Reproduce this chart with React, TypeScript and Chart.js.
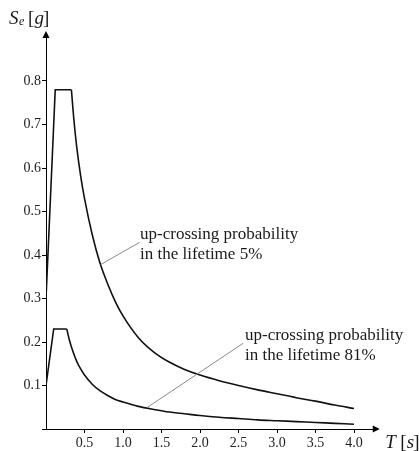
import React, { useEffect, useRef } from "react";
import { Chart, registerables } from "chart.js";

Chart.register(...registerables);

// Period T [s] and spectral acceleration Se [g]
const upperT = [0, 0.12, 0.33, 0.36, 0.4, 0.45, 0.5, 0.6, 0.7, 0.8, 0.9, 1.0, 1.2, 1.4, 1.6, 1.8, 2.0, 2.25, 2.5, 2.75, 3.0, 3.25, 3.5, 3.75, 4.0];
const upperSe = [0.30, 0.78, 0.78, 0.715, 0.647, 0.582, 0.53, 0.447, 0.382, 0.334, 0.293, 0.26, 0.21, 0.177, 0.154, 0.137, 0.124, 0.111, 0.1, 0.09, 0.081, 0.072, 0.064, 0.055, 0.047];
const lowerT = [0, 0.1, 0.27, 0.3, 0.35, 0.4, 0.45, 0.5, 0.6, 0.7, 0.8, 0.9, 1.0, 1.2, 1.4, 1.6, 1.8, 2.0, 2.25, 2.5, 2.75, 3.0, 3.25, 3.5, 3.75, 4.0];
const lowerSe = [0.10, 0.23, 0.23, 0.207, 0.178, 0.155, 0.138, 0.124, 0.103, 0.088, 0.077, 0.068, 0.062, 0.052, 0.045, 0.039, 0.035, 0.031, 0.027, 0.024, 0.021, 0.019, 0.017, 0.015, 0.013, 0.011];
const upperPlateauEnd = 2; // index where the decaying branch starts
const lowerPlateauEnd = 2;

const xTickValues = [0.5, 1.0, 1.5, 2.0, 2.5, 3.0, 3.5, 4.0];
const yTickValues = [0, 0.1, 0.2, 0.3, 0.4, 0.5, 0.6, 0.7, 0.8];

// annotation texts and anchors (data coordinates)
const note5Lines = ["up-crossing probability", "in the lifetime 5%"];
const note5Leader = [[0.71, 0.378], [1.215, 0.429]];
const note5Text = [1.221, 0.446];
const note81Lines = ["up-crossing probability", "in the lifetime 81%"];
const note81Leader = [[1.31, 0.049], [2.56, 0.197]];
const note81Text = [2.584, 0.216];

const toPts = (xs: number[], ys: number[], a: number, b: number) =>
  xs.slice(a, b).map((x, i) => ({ x, y: ys[a + i] }));

const SERIF = '"Liberation Serif", "Times New Roman", serif';

const decorPlugin = {
  id: "decor",
  afterDraw(chart: any) {
    const { ctx, chartArea, scales } = chart;
    const { left, top, right, bottom } = chartArea;
    const xs = scales.x;
    const ys = scales.y;
    ctx.save();
    ctx.fillStyle = "#000";
    // y arrow
    ctx.beginPath();
    ctx.moveTo(left - 3.5, top + 0.5);
    ctx.lineTo(left + 3.5, top + 0.5);
    ctx.lineTo(left, top - 6.5);
    ctx.closePath();
    ctx.fill();
    // x arrow
    ctx.beginPath();
    ctx.moveTo(right - 0.5, bottom - 3.5);
    ctx.lineTo(right - 0.5, bottom + 3.5);
    ctx.lineTo(right + 6.5, bottom);
    ctx.closePath();
    ctx.fill();

    // leaders
    ctx.strokeStyle = "#8a8a8a";
    ctx.lineWidth = 1;
    for (const ld of [note5Leader, note81Leader]) {
      ctx.beginPath();
      ctx.moveTo(xs.getPixelForValue(ld[0][0]), ys.getPixelForValue(ld[0][1]));
      ctx.lineTo(xs.getPixelForValue(ld[1][0]), ys.getPixelForValue(ld[1][1]));
      ctx.stroke();
    }

    // annotation text
    ctx.fillStyle = "#1a1a1a";
    ctx.font = `17px ${SERIF}`;
    ctx.textAlign = "left";
    ctx.textBaseline = "middle";
    const drawNote = (lines: string[], pos: number[]) => {
      const px = xs.getPixelForValue(pos[0]);
      const py = ys.getPixelForValue(pos[1]);
      lines.forEach((l, i) => ctx.fillText(l, px, py + i * 20));
    };
    drawNote(note5Lines, note5Text);
    drawNote(note81Lines, note81Text);

    // axis titles
    ctx.textBaseline = "alphabetic";
    ctx.font = `italic 19px ${SERIF}`;
    ctx.fillText("S", left - 37, top - 14);
    ctx.font = `italic 12px ${SERIF}`;
    ctx.fillText("e", left - 27, top - 13);
    ctx.font = `19px ${SERIF}`;
    ctx.fillText("[", left - 18, top - 14);
    ctx.font = `italic 19px ${SERIF}`;
    ctx.fillText("g", left - 11.5, top - 14);
    ctx.font = `19px ${SERIF}`;
    ctx.fillText("]", left - 3, top - 14);

    ctx.font = `italic 19px ${SERIF}`;
    ctx.fillText("T", right + 12, bottom + 19);
    ctx.font = `19px ${SERIF}`;
    ctx.fillText("[", right + 27, bottom + 19);
    ctx.font = `italic 19px ${SERIF}`;
    ctx.fillText("s", right + 33.5, bottom + 19);
    ctx.font = `19px ${SERIF}`;
    ctx.fillText("]", right + 40, bottom + 19);
    ctx.restore();
  },
};

export default function App() {
  const ref = useRef<HTMLCanvasElement | null>(null);

  useEffect(() => {
    if (!ref.current) return;
    const lineStyle = {
      borderColor: "#111",
      borderWidth: 1.6,
      pointRadius: 0,
      fill: false,
    };
    const chart = new Chart(ref.current, {
      type: "line",
      data: {
        datasets: [
          { ...lineStyle, data: toPts(upperT, upperSe, 0, upperPlateauEnd + 1), tension: 0 },
          { ...lineStyle, data: toPts(upperT, upperSe, upperPlateauEnd, upperT.length), cubicInterpolationMode: "monotone" },
          { ...lineStyle, data: toPts(lowerT, lowerSe, 0, lowerPlateauEnd + 1), tension: 0 },
          { ...lineStyle, data: toPts(lowerT, lowerSe, lowerPlateauEnd, lowerT.length), cubicInterpolationMode: "monotone" },
        ] as any,
      },
      options: {
        responsive: false,
        animation: false,
        devicePixelRatio: 1,
        layout: { padding: { top: 37.5, right: 45.75, left: 0, bottom: 0 } },
        plugins: { legend: { display: false }, tooltip: { enabled: false } },
        scales: {
          x: {
            type: "linear",
            min: 0,
            max: 4.25,
            afterBuildTicks: (s: any) => {
              s.ticks = xTickValues.map((v) => ({ value: v }));
            },
            afterFit: (s: any) => {
              s.height = 22;
            },
            grid: { display: true, drawOnChartArea: false, drawTicks: true, tickLength: 4, color: "#000", lineWidth: 1 },
            border: { display: true, color: "#000", width: 1 },
            ticks: {
              autoSkip: false,
              maxRotation: 0,
              padding: 2,
              color: "#222",
              font: { family: SERIF, size: 14 },
              callback: (v: any) => Number(v).toFixed(1),
            },
          },
          y: {
            type: "linear",
            min: 0,
            max: 0.9,
            afterBuildTicks: (s: any) => {
              s.ticks = yTickValues.map((v) => ({ value: v }));
            },
            afterFit: (s: any) => {
              s.width = 46;
            },
            grid: { display: true, drawOnChartArea: false, drawTicks: true, tickLength: 4, color: "#000", lineWidth: 1 },
            border: { display: true, color: "#000", width: 1 },
            ticks: {
              autoSkip: false,
              padding: 1,
              color: "#222",
              font: { family: SERIF, size: 14 },
              callback: (v: any) => (Number(v) === 0 ? "" : Number(v).toFixed(1)),
            },
          },
        },
      } as any,
      plugins: [decorPlugin],
    });
    return () => chart.destroy();
  }, []);

  return (
    <div style={{ position: "fixed", left: 0, top: 0, width: 419, height: 451, background: "#fff" }}>
      <canvas ref={ref} width={419} height={451} style={{ width: 419, height: 451, display: "block" }} />
    </div>
  );
}
